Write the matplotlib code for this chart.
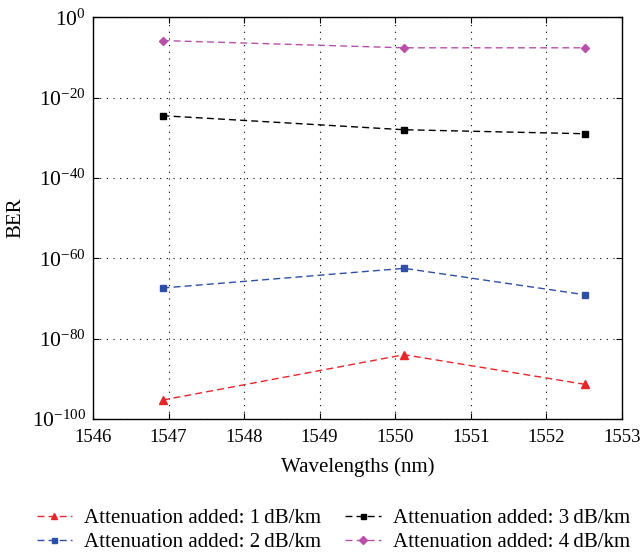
import matplotlib
matplotlib.use("Agg")
import matplotlib.pyplot as plt
from matplotlib.ticker import NullLocator, LogFormatterMathtext

plt.rcParams["font.family"] = ["Liberation Serif", "DejaVu Serif"]
plt.rcParams["mathtext.fontset"] = "stix"

wavelengths = [1546.92, 1550.12, 1552.52]
# BER values (log10)
log_ber_1db = [-95.3, -84.0, -91.4]
log_ber_2db = [-67.4, -62.5, -69.1]
log_ber_3db = [-24.5, -28.0, -29.0]
log_ber_4db = [-5.8, -7.6, -7.6]

labels = [
    "Attenuation added: 1\u2009dB/km",
    "Attenuation added: 2\u2009dB/km",
    "Attenuation added: 3\u2009dB/km",
    "Attenuation added: 4\u2009dB/km",
]
x_ticks = [1546, 1547, 1548, 1549, 1550, 1551, 1552, 1553]
y_ticks = [1e0, 1e-20, 1e-40, 1e-60, 1e-80, 1e-100]

fig = plt.figure(figsize=(6.42, 5.57), dpi=100)
ax = fig.add_axes([0.1449, 0.2478, 0.8235, 0.7212])

series = [
    (log_ber_1db, "#e8262a", "^", 5.5),
    (log_ber_2db, "#2e4fa6", "s", 4.5),
    (log_ber_3db, "#000000", "s", 4.5),
    (log_ber_4db, "#b84fa8", "D", 4.5),
]
for (logs, color, marker, ms), lab in zip(series, labels):
    vals = [10.0 ** v for v in logs]
    ax.plot(wavelengths, vals, color=color, linestyle=(0, (5, 3)), linewidth=1.0,
            marker=marker, markersize=ms, label=lab)

ax.set_yscale("log")
ax.set_xlim(1546, 1553)
ax.set_ylim(1e-100, 1e0)
ax.set_xticks(x_ticks)
ax.set_xticklabels([str(t) for t in x_ticks])
ax.set_yticks(y_ticks)
ax.yaxis.set_major_formatter(LogFormatterMathtext())
ax.yaxis.set_minor_locator(NullLocator())
ax.grid(True, which="major", color="black", linestyle=(0, (1, 5)), linewidth=0.8)
ax.tick_params(direction="in", top=True, right=True, length=4)
ax.tick_params(axis="x", labelsize=13.5, pad=7)
ax.tick_params(axis="y", labelsize=15.5, pad=5)
for s in ax.spines.values():
    s.set_linewidth(1.0)

ax.set_xlabel("Wavelengths (nm)", fontsize=15, labelpad=8)
ax.set_ylabel("BER", fontsize=15, labelpad=5)

fig.legend(loc="center", bbox_to_anchor=(0.519, 0.0476), ncol=2, frameon=False,
           fontsize=15, handlelength=1.7, handletextpad=0.58, columnspacing=1.15,
           labelspacing=0.2, markerscale=0.8, borderpad=0.2)

fig.savefig("out.png", dpi=100)
